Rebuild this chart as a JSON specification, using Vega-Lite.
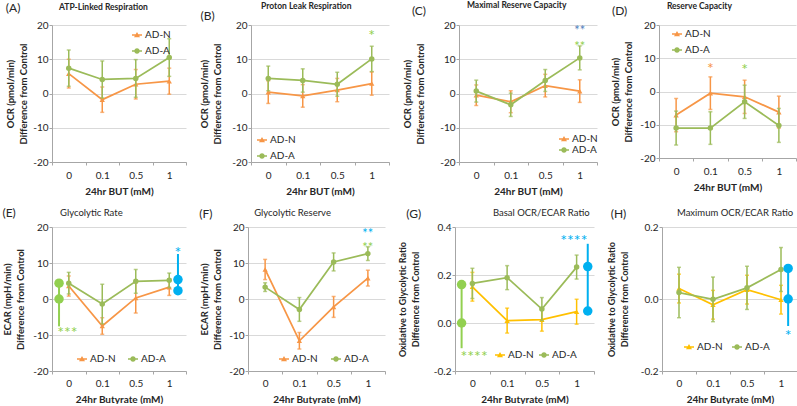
{
"$schema": "https://vega.github.io/schema/vega-lite/v6.json",
"padding": {"left": 2, "top": 0, "right": 0, "bottom": 0},
"datasets": {
"d": [
{"p":"A","kind":"m","s":"AD-N","x":0,"y":5.8,"e":4.2},{"p":"A","kind":"m","s":"AD-N","x":1,"y":-1.8,"e":3.7},{"p":"A","kind":"m","s":"AD-N","x":2,"y":2.7,"e":4.3},{"p":"A","kind":"m","s":"AD-N","x":3,"y":3.6,"e":3.8},
{"p":"A","kind":"m","s":"AD-A","x":0,"y":7.4,"e":5.3},{"p":"A","kind":"m","s":"AD-A","x":1,"y":4.1,"e":5.4},{"p":"A","kind":"m","s":"AD-A","x":2,"y":4.4,"e":5.5},{"p":"A","kind":"m","s":"AD-A","x":3,"y":10.5,"e":5.5},
{"p":"B","kind":"m","s":"AD-N","x":0,"y":0.4,"e":3.3},{"p":"B","kind":"m","s":"AD-N","x":1,"y":-0.7,"e":3.3},{"p":"B","kind":"m","s":"AD-N","x":2,"y":1.0,"e":3.4},{"p":"B","kind":"m","s":"AD-N","x":3,"y":2.9,"e":3.4},
{"p":"B","kind":"m","s":"AD-A","x":0,"y":4.4,"e":3.6},{"p":"B","kind":"m","s":"AD-A","x":1,"y":3.8,"e":3.4},{"p":"B","kind":"m","s":"AD-A","x":2,"y":2.7,"e":3.5},{"p":"B","kind":"m","s":"AD-A","x":3,"y":10.1,"e":3.7},
{"p":"C","kind":"m","s":"AD-N","x":0,"y":-0.5,"e":3.0},{"p":"C","kind":"m","s":"AD-N","x":1,"y":-2.4,"e":3.2},{"p":"C","kind":"m","s":"AD-N","x":2,"y":2.3,"e":3.3},{"p":"C","kind":"m","s":"AD-N","x":3,"y":0.7,"e":3.3},
{"p":"C","kind":"m","s":"AD-A","x":0,"y":0.7,"e":3.2},{"p":"C","kind":"m","s":"AD-A","x":1,"y":-3.3,"e":3.4},{"p":"C","kind":"m","s":"AD-A","x":2,"y":3.8,"e":3.2},{"p":"C","kind":"m","s":"AD-A","x":3,"y":10.4,"e":3.5},
{"p":"D","kind":"m","s":"AD-N","x":0,"y":-7.1,"e":5.0},{"p":"D","kind":"m","s":"AD-N","x":1,"y":-0.5,"e":4.9},{"p":"D","kind":"m","s":"AD-N","x":2,"y":-1.6,"e":5.0},{"p":"D","kind":"m","s":"AD-N","x":3,"y":-6.2,"e":4.8},
{"p":"D","kind":"m","s":"AD-A","x":0,"y":-11.0,"e":5.1},{"p":"D","kind":"m","s":"AD-A","x":1,"y":-11.0,"e":4.9},{"p":"D","kind":"m","s":"AD-A","x":2,"y":-3.1,"e":5.0},{"p":"D","kind":"m","s":"AD-A","x":3,"y":-10.2,"e":5.1},
{"p":"E","kind":"m","s":"AD-N","x":0,"y":3.6,"e":2.8},{"p":"E","kind":"m","s":"AD-N","x":1,"y":-7.5,"e":2.3},{"p":"E","kind":"m","s":"AD-N","x":2,"y":0.3,"e":4.2},{"p":"E","kind":"m","s":"AD-N","x":3,"y":3.3,"e":2.3},
{"p":"E","kind":"m","s":"AD-A","x":0,"y":4.4,"e":3.0},{"p":"E","kind":"m","s":"AD-A","x":1,"y":-1.4,"e":5.5},{"p":"E","kind":"m","s":"AD-A","x":2,"y":4.9,"e":3.3},{"p":"E","kind":"m","s":"AD-A","x":3,"y":5.2,"e":2.0},
{"p":"F","kind":"m","s":"AD-N","x":0,"y":8.2,"e":2.8},{"p":"F","kind":"m","s":"AD-N","x":1,"y":-11.6,"e":2.3},{"p":"F","kind":"m","s":"AD-N","x":2,"y":-2.2,"e":2.9},{"p":"F","kind":"m","s":"AD-N","x":3,"y":5.8,"e":2.2},
{"p":"F","kind":"m","s":"AD-A","x":0,"y":3.3,"e":1.2},{"p":"F","kind":"m","s":"AD-A","x":1,"y":-2.9,"e":3.3},{"p":"F","kind":"m","s":"AD-A","x":2,"y":10.3,"e":2.5},{"p":"F","kind":"m","s":"AD-A","x":3,"y":12.6,"e":1.9},
{"p":"G","kind":"m","s":"AD-N","x":0,"y":0.151,"e":0.06},{"p":"G","kind":"m","s":"AD-N","x":1,"y":0.01,"e":0.052},{"p":"G","kind":"m","s":"AD-N","x":2,"y":0.014,"e":0.048},{"p":"G","kind":"m","s":"AD-N","x":3,"y":0.047,"e":0.052},
{"p":"G","kind":"m","s":"AD-A","x":0,"y":0.165,"e":0.063},{"p":"G","kind":"m","s":"AD-A","x":1,"y":0.189,"e":0.05},{"p":"G","kind":"m","s":"AD-A","x":2,"y":0.058,"e":0.048},{"p":"G","kind":"m","s":"AD-A","x":3,"y":0.233,"e":0.05},
{"p":"H","kind":"m","s":"AD-N","x":0,"y":0.029,"e":0.04},{"p":"H","kind":"m","s":"AD-N","x":1,"y":-0.016,"e":0.04},{"p":"H","kind":"m","s":"AD-N","x":2,"y":0.026,"e":0.04},{"p":"H","kind":"m","s":"AD-N","x":3,"y":-0.002,"e":0.04},
{"p":"H","kind":"m","s":"AD-A","x":0,"y":0.018,"e":0.07},{"p":"H","kind":"m","s":"AD-A","x":1,"y":-0.001,"e":0.062},{"p":"H","kind":"m","s":"AD-A","x":2,"y":0.031,"e":0.06},{"p":"H","kind":"m","s":"AD-A","x":3,"y":0.082,"e":0.061},
{"p":"E","kind":"sd","k":"A","x":-0.29,"y":4.4},{"p":"E","kind":"sd","k":"A","x":-0.29,"y":0},{"p":"E","kind":"sd","k":"AvN","x":3.26,"y":5.4},{"p":"E","kind":"sd","k":"AvN","x":3.26,"y":2.3},
{"p":"G","kind":"sd","k":"A","x":-0.31,"y":0.16},{"p":"G","kind":"sd","k":"A","x":-0.31,"y":0},{"p":"G","kind":"sd","k":"AvN","x":3.32,"y":0.235},{"p":"G","kind":"sd","k":"AvN","x":3.32,"y":0.05},
{"p":"H","kind":"sd","k":"AvN","x":3.21,"y":0.085},{"p":"H","kind":"sd","k":"AvN","x":3.21,"y":0},
{"p":"E","kind":"sb","k":"A","x":-0.29,"y":-7.6,"y2":4.4},{"p":"E","kind":"sb","k":"AvN","x":3.26,"y":2.3,"y2":12.5},
{"p":"G","kind":"sb","k":"A","x":-0.31,"y":-0.105,"y2":0.16},{"p":"G","kind":"sb","k":"AvN","x":3.32,"y":0.05,"y2":0.33},
{"p":"H","kind":"sb","k":"AvN","x":3.21,"y":-0.075,"y2":0.085},
{"p":"B","kind":"st","k":"A","x":3,"y":17.6,"t":"*"},
{"p":"C","kind":"st","k":"AvN","x":3,"y":19.0,"t":"**"},{"p":"C","kind":"st","k":"A","x":3,"y":14.4,"t":"**"},
{"p":"D","kind":"st","k":"N","x":1,"y":7.8,"t":"*"},{"p":"D","kind":"st","k":"A","x":2,"y":7.4,"t":"*"},
{"p":"E","kind":"st","k":"A","x":-0.04,"y":-8.7,"t":"***"},{"p":"E","kind":"st","k":"AvN","x":3.26,"y":13.6,"t":"*"},
{"p":"F","kind":"st","k":"AvN","x":3,"y":19.0,"t":"**"},{"p":"F","kind":"st","k":"A","x":3,"y":15.0,"t":"**"},
{"p":"G","kind":"st","k":"A","x":0.05,"y":-0.13,"t":"****"},{"p":"G","kind":"st","k":"AvN","x":2.92,"y":0.355,"t":"****"},
{"p":"H","kind":"st","k":"AvN","x":3.21,"y":-0.095,"t":"*"},
{"p":"A","kind":"lab","t":"(A)","name":"ATP-Linked Respiration"},
{"p":"B","kind":"lab","t":"(B)","name":"Proton Leak Respiration"},
{"p":"C","kind":"lab","t":"(C)","name":"Maximal Reserve Capacity"},
{"p":"D","kind":"lab","t":"(D)","name":"Reserve Capacity"},
{"p":"E","kind":"lab","t":"(E)","name":"Glycolytic Rate"},
{"p":"F","kind":"lab","t":"(F)","name":"Glycolytic Reserve"},
{"p":"G","kind":"lab","t":"(G)","name":"Basal OCR/ECAR Ratio"},
{"p":"H","kind":"lab","t":"(H)","name":"Maximum OCR/ECAR Ratio"}
]
},
"spacing": 10,
"resolve": {"scale": {"x": "independent", "y": "independent", "color": "independent", "shape": "independent"}, "legend": {"color": "independent", "shape": "independent"}},
"vconcat": [
{
"spacing": 12,
"resolve": {"scale": {"x": "independent", "y": "independent", "color": "independent", "shape": "independent"}, "legend": {"color": "independent", "shape": "independent"}},
"hconcat": [
{
"width": 134, "height": 137,
"resolve": {"scale": {"x": "independent", "y": "independent"}},
"layer": [
{
"encoding": {
"x": {"field": "x", "type": "quantitative", "scale": {"domain": [-0.5, 3.5], "nice": false, "zero": false}, "axis": {"values": [-0.5, 0.5, 1.5, 2.5, 3.5], "labelExpr": "datum.value < 0 ? '0' : datum.value < 1 ? '0.1' : datum.value < 2 ? '0.5' : datum.value < 3 ? '1' : ''", "labelOffset": {"condition": {"test": "datum.value > 3", "value": 0}, "value": 16.75}, "labelOverlap": false, "title": "24hr BUT (mM)"}},
"y": {"field": "y", "type": "quantitative", "scale": {"domain": [-20, 20], "nice": false, "zero": false}, "axis": {"values": [-20, -10, 0, 10, 20], "labelOverlap": false, "labelExpr": "replace(datum.label, '−', '-')", "title": ["OCR (pmol/min)", "Difference from Control"], "titlePadding": 4}}
},
"layer": [
{"data": {"name": "d"}, "transform": [{"filter": "datum.p=='A' && datum.kind=='m' && datum.s=='AD-N'"}], "mark": {"type": "errorbar", "color": "#F79646", "thickness": 1.5, "size": 4, "ticks": true}, "encoding": {"yError": {"field": "e"}}},
{"data": {"name": "d"}, "transform": [{"filter": "datum.p=='A' && datum.kind=='m' && datum.s=='AD-N'"}], "mark": {"type": "line", "color": "#F79646", "strokeWidth": 1.75, "point": {"filled": true, "shape": "triangle-up", "size": 28, "color": "#F79646", "opacity": 1}}},
{"data": {"name": "d"}, "transform": [{"filter": "datum.p=='A' && datum.kind=='m' && datum.s=='AD-A'"}], "mark": {"type": "errorbar", "color": "#9BBB59", "thickness": 1.5, "size": 4, "ticks": true}, "encoding": {"yError": {"field": "e"}}},
{"data": {"name": "d"}, "transform": [{"filter": "datum.p=='A' && datum.kind=='m' && datum.s=='AD-A'"}], "mark": {"type": "line", "color": "#9BBB59", "strokeWidth": 1.75, "point": {"filled": true, "shape": "circle", "size": 30, "color": "#9BBB59", "opacity": 1}}},
{"data": {"name": "d"}, "transform": [{"filter": "false"}], "mark": {"type": "point", "filled": true, "opacity": 1, "size": 100},
 "encoding": {"color": {"field": "s", "type": "nominal", "scale": {"domain": ["AD-N", "AD-A"], "range": ["#F79646", "#9BBB59"]}, "legend": {"title": null, "orient": "none", "legendX": 79, "legendY": 4, "direction": "vertical", "rowPadding": 5}},
  "shape": {"field": "s", "type": "nominal", "scale": {"domain": ["AD-N", "AD-A"], "range": ["M-1,-0.15L1,-0.15L1,0.15L-1,0.15Z M0,-0.6L0.6,0.45L-0.6,0.45Z", "M-1,-0.15L1,-0.15L1,0.15L-1,0.15Z M0.55,0A0.55,0.55,0,1,1,-0.55,0A0.55,0.55,0,1,1,0.55,0Z"]}}}}
]
},
{"data": {"name": "d"}, "transform": [{"filter": "datum.p=='A' && datum.kind=='lab'"}], "mark": {"type": "text", "fontSize": 12, "color": "#262626"}, "encoding": {"x": {"datum": -1.66, "type": "quantitative", "scale": {"domain": [-0.5, 3.5], "nice": false, "zero": false}, "axis": null}, "y": {"datum": 24.96, "type": "quantitative", "scale": {"domain": [-20, 20], "nice": false, "zero": false}, "axis": null}, "text": {"field": "t"}}},
{"data": {"name": "d"}, "transform": [{"filter": "datum.p=='A' && datum.kind=='lab'"}], "mark": {"type": "text", "fontSize": 8.5, "fontWeight": "bold", "align": "left", "color": "#262626"}, "encoding": {"x": {"datum": -0.29, "type": "quantitative", "scale": {"domain": [-0.5, 3.5], "nice": false, "zero": false}, "axis": null}, "y": {"datum": 25.26, "type": "quantitative", "scale": {"domain": [-20, 20], "nice": false, "zero": false}, "axis": null}, "text": {"field": "name"}}}
]
},
{
"width": 138, "height": 137,
"resolve": {"scale": {"x": "independent", "y": "independent"}},
"layer": [
{
"encoding": {
"x": {"field": "x", "type": "quantitative", "scale": {"domain": [-0.5, 3.5], "nice": false, "zero": false}, "axis": {"values": [-0.5, 0.5, 1.5, 2.5, 3.5], "labelExpr": "datum.value < 0 ? '0' : datum.value < 1 ? '0.1' : datum.value < 2 ? '0.5' : datum.value < 3 ? '1' : ''", "labelOffset": {"condition": {"test": "datum.value > 3", "value": 0}, "value": 17.25}, "labelOverlap": false, "title": "24hr BUT (mM)"}},
"y": {"field": "y", "type": "quantitative", "scale": {"domain": [-20, 20], "nice": false, "zero": false}, "axis": {"values": [-20, -10, 0, 10, 20], "labelOverlap": false, "labelExpr": "replace(datum.label, '−', '-')", "title": ["OCR (pmol/min)", "Difference from Control"], "titlePadding": 9}}
},
"layer": [
{"data": {"name": "d"}, "transform": [{"filter": "datum.p=='B' && datum.kind=='m' && datum.s=='AD-N'"}], "mark": {"type": "errorbar", "color": "#F79646", "thickness": 1.5, "size": 4, "ticks": true}, "encoding": {"yError": {"field": "e"}}},
{"data": {"name": "d"}, "transform": [{"filter": "datum.p=='B' && datum.kind=='m' && datum.s=='AD-N'"}], "mark": {"type": "line", "color": "#F79646", "strokeWidth": 1.75, "point": {"filled": true, "shape": "triangle-up", "size": 28, "color": "#F79646", "opacity": 1}}},
{"data": {"name": "d"}, "transform": [{"filter": "datum.p=='B' && datum.kind=='m' && datum.s=='AD-A'"}], "mark": {"type": "errorbar", "color": "#9BBB59", "thickness": 1.5, "size": 4, "ticks": true}, "encoding": {"yError": {"field": "e"}}},
{"data": {"name": "d"}, "transform": [{"filter": "datum.p=='B' && datum.kind=='m' && datum.s=='AD-A'"}], "mark": {"type": "line", "color": "#9BBB59", "strokeWidth": 1.75, "point": {"filled": true, "shape": "circle", "size": 30, "color": "#9BBB59", "opacity": 1}}},
{"data": {"name": "d"}, "transform": [{"filter": "datum.p=='B' && datum.kind=='st' && datum.k=='A'"}], "mark": {"type": "text", "fontSize": 16, "baseline": "middle", "dy": 3, "color": "#92D050"}, "encoding": {"text": {"field": "t"}}},
{"data": {"name": "d"}, "transform": [{"filter": "false"}], "mark": {"type": "point", "filled": true, "opacity": 1, "size": 100},
 "encoding": {"color": {"field": "s", "type": "nominal", "scale": {"domain": ["AD-N", "AD-A"], "range": ["#F79646", "#9BBB59"]}, "legend": {"title": null, "orient": "none", "legendX": 5, "legendY": 109, "direction": "vertical", "rowPadding": 5}},
  "shape": {"field": "s", "type": "nominal", "scale": {"domain": ["AD-N", "AD-A"], "range": ["M-1,-0.15L1,-0.15L1,0.15L-1,0.15Z M0,-0.6L0.6,0.45L-0.6,0.45Z", "M-1,-0.15L1,-0.15L1,0.15L-1,0.15Z M0.55,0A0.55,0.55,0,1,1,-0.55,0A0.55,0.55,0,1,1,0.55,0Z"]}}}}
]
},
{"data": {"name": "d"}, "transform": [{"filter": "datum.p=='B' && datum.kind=='lab'"}], "mark": {"type": "text", "fontSize": 12, "color": "#262626"}, "encoding": {"x": {"datum": -1.76, "type": "quantitative", "scale": {"domain": [-0.5, 3.5], "nice": false, "zero": false}, "axis": null}, "y": {"datum": 22.6, "type": "quantitative", "scale": {"domain": [-20, 20], "nice": false, "zero": false}, "axis": null}, "text": {"field": "t"}}},
{"data": {"name": "d"}, "transform": [{"filter": "datum.p=='B' && datum.kind=='lab'"}], "mark": {"type": "text", "fontSize": 8.5, "fontWeight": "bold", "align": "left", "color": "#262626"}, "encoding": {"x": {"datum": -0.21, "type": "quantitative", "scale": {"domain": [-0.5, 3.5], "nice": false, "zero": false}, "axis": null}, "y": {"datum": 25.55, "type": "quantitative", "scale": {"domain": [-20, 20], "nice": false, "zero": false}, "axis": null}, "text": {"field": "name"}}}
]
},
{
"width": 138, "height": 137,
"resolve": {"scale": {"x": "independent", "y": "independent"}},
"layer": [
{
"encoding": {
"x": {"field": "x", "type": "quantitative", "scale": {"domain": [-0.5, 3.5], "nice": false, "zero": false}, "axis": {"values": [-0.5, 0.5, 1.5, 2.5, 3.5], "labelExpr": "datum.value < 0 ? '0' : datum.value < 1 ? '0.1' : datum.value < 2 ? '0.5' : datum.value < 3 ? '1' : ''", "labelOffset": {"condition": {"test": "datum.value > 3", "value": 0}, "value": 17.25}, "labelOverlap": false, "title": "24hr BUT (mM)"}},
"y": {"field": "y", "type": "quantitative", "scale": {"domain": [-20, 20], "nice": false, "zero": false}, "axis": {"values": [-20, -10, 0, 10, 20], "labelOverlap": false, "labelExpr": "replace(datum.label, '−', '-')", "title": ["OCR (pmol/min)", "Difference from Control"], "titlePadding": 14}}
},
"layer": [
{"data": {"name": "d"}, "transform": [{"filter": "datum.p=='C' && datum.kind=='m' && datum.s=='AD-N'"}], "mark": {"type": "errorbar", "color": "#F79646", "thickness": 1.5, "size": 4, "ticks": true}, "encoding": {"yError": {"field": "e"}}},
{"data": {"name": "d"}, "transform": [{"filter": "datum.p=='C' && datum.kind=='m' && datum.s=='AD-N'"}], "mark": {"type": "line", "color": "#F79646", "strokeWidth": 1.75, "point": {"filled": true, "shape": "triangle-up", "size": 28, "color": "#F79646", "opacity": 1}}},
{"data": {"name": "d"}, "transform": [{"filter": "datum.p=='C' && datum.kind=='m' && datum.s=='AD-A'"}], "mark": {"type": "errorbar", "color": "#9BBB59", "thickness": 1.5, "size": 4, "ticks": true}, "encoding": {"yError": {"field": "e"}}},
{"data": {"name": "d"}, "transform": [{"filter": "datum.p=='C' && datum.kind=='m' && datum.s=='AD-A'"}], "mark": {"type": "line", "color": "#9BBB59", "strokeWidth": 1.75, "point": {"filled": true, "shape": "circle", "size": 30, "color": "#9BBB59", "opacity": 1}}},
{"data": {"name": "d"}, "transform": [{"filter": "datum.p=='C' && datum.kind=='st' && datum.k=='A'"}], "mark": {"type": "text", "fontSize": 13, "baseline": "middle", "dy": 3, "color": "#92D050"}, "encoding": {"text": {"field": "t"}}},
{"data": {"name": "d"}, "transform": [{"filter": "datum.p=='C' && datum.kind=='st' && datum.k=='AvN'"}], "mark": {"type": "text", "fontSize": 13, "baseline": "middle", "dy": 3, "color": "#4F81BD"}, "encoding": {"text": {"field": "t"}}},
{"data": {"name": "d"}, "transform": [{"filter": "false"}], "mark": {"type": "point", "filled": true, "opacity": 1, "size": 100},
 "encoding": {"color": {"field": "s", "type": "nominal", "scale": {"domain": ["AD-N", "AD-A"], "range": ["#F79646", "#9BBB59"]}, "legend": {"title": null, "orient": "none", "legendX": 99, "legendY": 108, "direction": "vertical", "rowPadding": 0}},
  "shape": {"field": "s", "type": "nominal", "scale": {"domain": ["AD-N", "AD-A"], "range": ["M-1,-0.15L1,-0.15L1,0.15L-1,0.15Z M0,-0.6L0.6,0.45L-0.6,0.45Z", "M-1,-0.15L1,-0.15L1,0.15L-1,0.15Z M0.55,0A0.55,0.55,0,1,1,-0.55,0A0.55,0.55,0,1,1,0.55,0Z"]}}}}
]
},
{"data": {"name": "d"}, "transform": [{"filter": "datum.p=='C' && datum.kind=='lab'"}], "mark": {"type": "text", "fontSize": 12, "color": "#262626"}, "encoding": {"x": {"datum": -1.66, "type": "quantitative", "scale": {"domain": [-0.5, 3.5], "nice": false, "zero": false}, "axis": null}, "y": {"datum": 24.1, "type": "quantitative", "scale": {"domain": [-20, 20], "nice": false, "zero": false}, "axis": null}, "text": {"field": "t"}}},
{"data": {"name": "d"}, "transform": [{"filter": "datum.p=='C' && datum.kind=='lab'"}], "mark": {"type": "text", "fontSize": 8.5, "fontWeight": "bold", "align": "left", "color": "#262626"}, "encoding": {"x": {"datum": -0.27, "type": "quantitative", "scale": {"domain": [-0.5, 3.5], "nice": false, "zero": false}, "axis": null}, "y": {"datum": 25.84, "type": "quantitative", "scale": {"domain": [-20, 20], "nice": false, "zero": false}, "axis": null}, "text": {"field": "name"}}}
]
},
{
"width": 137, "height": 133,
"resolve": {"scale": {"x": "independent", "y": "independent"}},
"layer": [
{
"encoding": {
"x": {"field": "x", "type": "quantitative", "scale": {"domain": [-0.5, 3.5], "nice": false, "zero": false}, "axis": {"values": [-0.5, 0.5, 1.5, 2.5, 3.5], "labelExpr": "datum.value < 0 ? '0' : datum.value < 1 ? '0.1' : datum.value < 2 ? '0.5' : datum.value < 3 ? '1' : ''", "labelOffset": {"condition": {"test": "datum.value > 3", "value": 0}, "value": 17.1}, "labelOverlap": false, "title": "24hr BUT (mM)"}},
"y": {"field": "y", "type": "quantitative", "scale": {"domain": [-20, 20], "nice": false, "zero": false}, "axis": {"values": [-20, -10, 0, 10, 20], "labelOverlap": false, "labelExpr": "replace(datum.label, '−', '-')", "title": ["OCR (pmol/min)", "Difference from Control"], "titlePadding": 6}}
},
"layer": [
{"data": {"name": "d"}, "transform": [{"filter": "datum.p=='D' && datum.kind=='m' && datum.s=='AD-N'"}], "mark": {"type": "errorbar", "color": "#F79646", "thickness": 1.5, "size": 4, "ticks": true}, "encoding": {"yError": {"field": "e"}}},
{"data": {"name": "d"}, "transform": [{"filter": "datum.p=='D' && datum.kind=='m' && datum.s=='AD-N'"}], "mark": {"type": "line", "color": "#F79646", "strokeWidth": 1.75, "point": {"filled": true, "shape": "triangle-up", "size": 28, "color": "#F79646", "opacity": 1}}},
{"data": {"name": "d"}, "transform": [{"filter": "datum.p=='D' && datum.kind=='m' && datum.s=='AD-A'"}], "mark": {"type": "errorbar", "color": "#9BBB59", "thickness": 1.5, "size": 4, "ticks": true}, "encoding": {"yError": {"field": "e"}}},
{"data": {"name": "d"}, "transform": [{"filter": "datum.p=='D' && datum.kind=='m' && datum.s=='AD-A'"}], "mark": {"type": "line", "color": "#9BBB59", "strokeWidth": 1.75, "point": {"filled": true, "shape": "circle", "size": 30, "color": "#9BBB59", "opacity": 1}}},
{"data": {"name": "d"}, "transform": [{"filter": "datum.p=='D' && datum.kind=='st' && datum.k=='A'"}], "mark": {"type": "text", "fontSize": 16, "baseline": "middle", "dy": 3, "color": "#92D050"}, "encoding": {"text": {"field": "t"}}},
{"data": {"name": "d"}, "transform": [{"filter": "datum.p=='D' && datum.kind=='st' && datum.k=='N'"}], "mark": {"type": "text", "fontSize": 16, "baseline": "middle", "dy": 3, "color": "#F79646"}, "encoding": {"text": {"field": "t"}}},
{"data": {"name": "d"}, "transform": [{"filter": "false"}], "mark": {"type": "point", "filled": true, "opacity": 1, "size": 100},
 "encoding": {"color": {"field": "s", "type": "nominal", "scale": {"domain": ["AD-N", "AD-A"], "range": ["#F79646", "#9BBB59"]}, "legend": {"title": null, "orient": "none", "legendX": 12, "legendY": 3, "direction": "vertical", "rowPadding": 5}},
  "shape": {"field": "s", "type": "nominal", "scale": {"domain": ["AD-N", "AD-A"], "range": ["M-1,-0.15L1,-0.15L1,0.15L-1,0.15Z M0,-0.6L0.6,0.45L-0.6,0.45Z", "M-1,-0.15L1,-0.15L1,0.15L-1,0.15Z M0.55,0A0.55,0.55,0,1,1,-0.55,0A0.55,0.55,0,1,1,0.55,0Z"]}}}}
]
},
{"data": {"name": "d"}, "transform": [{"filter": "datum.p=='D' && datum.kind=='lab'"}], "mark": {"type": "text", "fontSize": 12, "color": "#262626"}, "encoding": {"x": {"datum": -1.65, "type": "quantitative", "scale": {"domain": [-0.5, 3.5], "nice": false, "zero": false}, "axis": null}, "y": {"datum": 24.2, "type": "quantitative", "scale": {"domain": [-20, 20], "nice": false, "zero": false}, "axis": null}, "text": {"field": "t"}}},
{"data": {"name": "d"}, "transform": [{"filter": "datum.p=='D' && datum.kind=='lab'"}], "mark": {"type": "text", "fontSize": 8.5, "fontWeight": "bold", "align": "left", "color": "#262626"}, "encoding": {"x": {"datum": -0.27, "type": "quantitative", "scale": {"domain": [-0.5, 3.5], "nice": false, "zero": false}, "axis": null}, "y": {"datum": 25.71, "type": "quantitative", "scale": {"domain": [-20, 20], "nice": false, "zero": false}, "axis": null}, "text": {"field": "name"}}}
]
}
]
},
{
"spacing": 12,
"resolve": {"scale": {"x": "independent", "y": "independent", "color": "independent", "shape": "independent"}, "legend": {"color": "independent", "shape": "independent"}},
"hconcat": [
{
"width": 134, "height": 144,
"resolve": {"scale": {"x": "independent", "y": "independent"}},
"layer": [
{
"encoding": {
"x": {"field": "x", "type": "quantitative", "scale": {"domain": [-0.5, 3.5], "nice": false, "zero": false}, "axis": {"values": [-0.5, 0.5, 1.5, 2.5, 3.5], "labelExpr": "datum.value < 0 ? '0' : datum.value < 1 ? '0.1' : datum.value < 2 ? '0.5' : datum.value < 3 ? '1' : ''", "labelOffset": {"condition": {"test": "datum.value > 3", "value": 0}, "value": 16.75}, "labelOverlap": false, "labelPadding": 4, "title": "24hr Butyrate (mM)"}},
"y": {"field": "y", "type": "quantitative", "scale": {"domain": [-20, 20], "nice": false, "zero": false}, "axis": {"values": [-20, -10, 0, 10, 20], "labelOverlap": false, "labelExpr": "replace(datum.label, '−', '-')", "title": ["ECAR (mpH/min)", "Difference from Control"], "titlePadding": 7}}
},
"layer": [
{"data": {"name": "d"}, "transform": [{"filter": "datum.p=='E' && datum.kind=='m' && datum.s=='AD-N'"}], "mark": {"type": "errorbar", "color": "#F79646", "thickness": 1.5, "size": 4, "ticks": true}, "encoding": {"yError": {"field": "e"}}},
{"data": {"name": "d"}, "transform": [{"filter": "datum.p=='E' && datum.kind=='m' && datum.s=='AD-N'"}], "mark": {"type": "line", "color": "#F79646", "strokeWidth": 1.75, "point": {"filled": true, "shape": "triangle-up", "size": 28, "color": "#F79646", "opacity": 1}}},
{"data": {"name": "d"}, "transform": [{"filter": "datum.p=='E' && datum.kind=='m' && datum.s=='AD-A'"}], "mark": {"type": "errorbar", "color": "#9BBB59", "thickness": 1.5, "size": 4, "ticks": true}, "encoding": {"yError": {"field": "e"}}},
{"data": {"name": "d"}, "transform": [{"filter": "datum.p=='E' && datum.kind=='m' && datum.s=='AD-A'"}], "mark": {"type": "line", "color": "#9BBB59", "strokeWidth": 1.75, "point": {"filled": true, "shape": "circle", "size": 30, "color": "#9BBB59", "opacity": 1}}},
{"data": {"name": "d"}, "transform": [{"filter": "datum.p=='E' && datum.kind=='sb' && datum.k=='A'"}], "mark": {"type": "rule", "color": "#92D050", "strokeWidth": 2}, "encoding": {"y2": {"field": "y2"}}},
{"data": {"name": "d"}, "transform": [{"filter": "datum.p=='E' && datum.kind=='sb' && datum.k=='AvN'"}], "mark": {"type": "rule", "color": "#00B0F0", "strokeWidth": 2}, "encoding": {"y2": {"field": "y2"}}},
{"data": {"name": "d"}, "transform": [{"filter": "datum.p=='E' && datum.kind=='sd' && datum.k=='A'"}], "mark": {"type": "point", "filled": true, "shape": "circle", "size": 90, "opacity": 1, "color": "#92D050"}},
{"data": {"name": "d"}, "transform": [{"filter": "datum.p=='E' && datum.kind=='sd' && datum.k=='AvN'"}], "mark": {"type": "point", "filled": true, "shape": "circle", "size": 90, "opacity": 1, "color": "#00B0F0"}},
{"data": {"name": "d"}, "transform": [{"filter": "datum.p=='E' && datum.kind=='st' && datum.k=='A'"}], "mark": {"type": "text", "fontSize": 16, "baseline": "middle", "dy": 3, "color": "#92D050"}, "encoding": {"text": {"field": "t"}}},
{"data": {"name": "d"}, "transform": [{"filter": "datum.p=='E' && datum.kind=='st' && datum.k=='AvN'"}], "mark": {"type": "text", "fontSize": 16, "baseline": "middle", "dy": 3, "color": "#00B0F0"}, "encoding": {"text": {"field": "t"}}},
{"data": {"name": "d"}, "transform": [{"filter": "false"}], "mark": {"type": "point", "filled": true, "opacity": 1, "size": 100},
 "encoding": {"color": {"field": "s", "type": "nominal", "scale": {"domain": ["AD-N", "AD-A"], "range": ["#F79646", "#9BBB59"]}, "legend": {"title": null, "orient": "none", "legendX": 24, "legendY": 126, "direction": "horizontal", "columnPadding": 11}},
  "shape": {"field": "s", "type": "nominal", "scale": {"domain": ["AD-N", "AD-A"], "range": ["M-1,-0.15L1,-0.15L1,0.15L-1,0.15Z M0,-0.6L0.6,0.45L-0.6,0.45Z", "M-1,-0.15L1,-0.15L1,0.15L-1,0.15Z M0.55,0A0.55,0.55,0,1,1,-0.55,0A0.55,0.55,0,1,1,0.55,0Z"]}}}}
]
},
{"data": {"name": "d"}, "transform": [{"filter": "datum.p=='E' && datum.kind=='lab'"}], "mark": {"type": "text", "fontSize": 12, "color": "#262626"}, "encoding": {"x": {"datum": -1.78, "type": "quantitative", "scale": {"domain": [-0.5, 3.5], "nice": false, "zero": false}, "axis": null}, "y": {"datum": 23.9, "type": "quantitative", "scale": {"domain": [-20, 20], "nice": false, "zero": false}, "axis": null}, "text": {"field": "t"}}},
{"data": {"name": "d"}, "transform": [{"filter": "datum.p=='E' && datum.kind=='lab'"}], "mark": {"type": "text", "fontSize": 9.5, "align": "left", "color": "#262626"}, "encoding": {"x": {"datum": -0.26, "type": "quantitative", "scale": {"domain": [-0.5, 3.5], "nice": false, "zero": false}, "axis": null}, "y": {"datum": 23.89, "type": "quantitative", "scale": {"domain": [-20, 20], "nice": false, "zero": false}, "axis": null}, "text": {"field": "name"}}}
]
},
{
"width": 137, "height": 144,
"resolve": {"scale": {"x": "independent", "y": "independent"}},
"layer": [
{
"encoding": {
"x": {"field": "x", "type": "quantitative", "scale": {"domain": [-0.5, 3.5], "nice": false, "zero": false}, "axis": {"values": [-0.5, 0.5, 1.5, 2.5, 3.5], "labelExpr": "datum.value < 0 ? '0' : datum.value < 1 ? '0.1' : datum.value < 2 ? '0.5' : datum.value < 3 ? '1' : ''", "labelOffset": {"condition": {"test": "datum.value > 3", "value": 0}, "value": 17.1}, "labelOverlap": false, "labelPadding": 4, "title": "24hr Butyrate (mM)"}},
"y": {"field": "y", "type": "quantitative", "scale": {"domain": [-20, 20], "nice": false, "zero": false}, "axis": {"values": [-20, -10, 0, 10, 20], "labelOverlap": false, "labelExpr": "replace(datum.label, '−', '-')", "title": ["ECAR (mpH/min)", "Difference from Control"], "titlePadding": 6}}
},
"layer": [
{"data": {"name": "d"}, "transform": [{"filter": "datum.p=='F' && datum.kind=='m' && datum.s=='AD-N'"}], "mark": {"type": "errorbar", "color": "#F79646", "thickness": 1.5, "size": 4, "ticks": true}, "encoding": {"yError": {"field": "e"}}},
{"data": {"name": "d"}, "transform": [{"filter": "datum.p=='F' && datum.kind=='m' && datum.s=='AD-N'"}], "mark": {"type": "line", "color": "#F79646", "strokeWidth": 1.75, "point": {"filled": true, "shape": "triangle-up", "size": 28, "color": "#F79646", "opacity": 1}}},
{"data": {"name": "d"}, "transform": [{"filter": "datum.p=='F' && datum.kind=='m' && datum.s=='AD-A'"}], "mark": {"type": "errorbar", "color": "#9BBB59", "thickness": 1.5, "size": 4, "ticks": true}, "encoding": {"yError": {"field": "e"}}},
{"data": {"name": "d"}, "transform": [{"filter": "datum.p=='F' && datum.kind=='m' && datum.s=='AD-A'"}], "mark": {"type": "line", "color": "#9BBB59", "strokeWidth": 1.75, "point": {"filled": true, "shape": "circle", "size": 30, "color": "#9BBB59", "opacity": 1}}},
{"data": {"name": "d"}, "transform": [{"filter": "datum.p=='F' && datum.kind=='st' && datum.k=='A'"}], "mark": {"type": "text", "fontSize": 13, "baseline": "middle", "dy": 3, "color": "#92D050"}, "encoding": {"text": {"field": "t"}}},
{"data": {"name": "d"}, "transform": [{"filter": "datum.p=='F' && datum.kind=='st' && datum.k=='AvN'"}], "mark": {"type": "text", "fontSize": 13, "baseline": "middle", "dy": 3, "color": "#00B0F0"}, "encoding": {"text": {"field": "t"}}},
{"data": {"name": "d"}, "transform": [{"filter": "false"}], "mark": {"type": "point", "filled": true, "opacity": 1, "size": 100},
 "encoding": {"color": {"field": "s", "type": "nominal", "scale": {"domain": ["AD-N", "AD-A"], "range": ["#F79646", "#9BBB59"]}, "legend": {"title": null, "orient": "none", "legendX": 30, "legendY": 126, "direction": "horizontal", "columnPadding": 12}},
  "shape": {"field": "s", "type": "nominal", "scale": {"domain": ["AD-N", "AD-A"], "range": ["M-1,-0.15L1,-0.15L1,0.15L-1,0.15Z M0,-0.6L0.6,0.45L-0.6,0.45Z", "M-1,-0.15L1,-0.15L1,0.15L-1,0.15Z M0.55,0A0.55,0.55,0,1,1,-0.55,0A0.55,0.55,0,1,1,0.55,0Z"]}}}}
]
},
{"data": {"name": "d"}, "transform": [{"filter": "datum.p=='F' && datum.kind=='lab'"}], "mark": {"type": "text", "fontSize": 12, "color": "#262626"}, "encoding": {"x": {"datum": -1.73, "type": "quantitative", "scale": {"domain": [-0.5, 3.5], "nice": false, "zero": false}, "axis": null}, "y": {"datum": 23.6, "type": "quantitative", "scale": {"domain": [-20, 20], "nice": false, "zero": false}, "axis": null}, "text": {"field": "t"}}},
{"data": {"name": "d"}, "transform": [{"filter": "datum.p=='F' && datum.kind=='lab'"}], "mark": {"type": "text", "fontSize": 9.5, "align": "left", "color": "#262626"}, "encoding": {"x": {"datum": -0.32, "type": "quantitative", "scale": {"domain": [-0.5, 3.5], "nice": false, "zero": false}, "axis": null}, "y": {"datum": 23.89, "type": "quantitative", "scale": {"domain": [-20, 20], "nice": false, "zero": false}, "axis": null}, "text": {"field": "name"}}}
]
},
{
"width": 139, "height": 144,
"resolve": {"scale": {"x": "independent", "y": "independent"}},
"layer": [
{
"encoding": {
"x": {"field": "x", "type": "quantitative", "scale": {"domain": [-0.5, 3.5], "nice": false, "zero": false}, "axis": {"values": [-0.5, 0.5, 1.5, 2.5, 3.5], "labelExpr": "datum.value < 0 ? '0' : datum.value < 1 ? '0.1' : datum.value < 2 ? '0.5' : datum.value < 3 ? '1' : ''", "labelOffset": {"condition": {"test": "datum.value > 3", "value": 0}, "value": 17.4}, "labelOverlap": false, "labelPadding": 4, "title": "24hr Butyrate (mM)"}},
"y": {"field": "y", "type": "quantitative", "scale": {"domain": [-0.2, 0.4], "nice": false, "zero": false}, "axis": {"values": [-0.2, 0, 0.2, 0.4], "labelOverlap": false, "format": ".1f", "labelExpr": "replace(datum.label, '−', '-')", "title": ["Oxidative to Glycolytic Ratio", "Difference from Control"], "titleFontSize": 9, "titlePadding": 15}}
},
"layer": [
{"data": {"name": "d"}, "transform": [{"filter": "datum.p=='G' && datum.kind=='m' && datum.s=='AD-N'"}], "mark": {"type": "errorbar", "color": "#FFC000", "thickness": 1.5, "size": 4, "ticks": true}, "encoding": {"yError": {"field": "e"}}},
{"data": {"name": "d"}, "transform": [{"filter": "datum.p=='G' && datum.kind=='m' && datum.s=='AD-N'"}], "mark": {"type": "line", "color": "#FFC000", "strokeWidth": 1.75, "point": {"filled": true, "shape": "triangle-up", "size": 28, "color": "#FFC000", "opacity": 1}}},
{"data": {"name": "d"}, "transform": [{"filter": "datum.p=='G' && datum.kind=='m' && datum.s=='AD-A'"}], "mark": {"type": "errorbar", "color": "#9BBB59", "thickness": 1.5, "size": 4, "ticks": true}, "encoding": {"yError": {"field": "e"}}},
{"data": {"name": "d"}, "transform": [{"filter": "datum.p=='G' && datum.kind=='m' && datum.s=='AD-A'"}], "mark": {"type": "line", "color": "#9BBB59", "strokeWidth": 1.75, "point": {"filled": true, "shape": "circle", "size": 30, "color": "#9BBB59", "opacity": 1}}},
{"data": {"name": "d"}, "transform": [{"filter": "datum.p=='G' && datum.kind=='sb' && datum.k=='A'"}], "mark": {"type": "rule", "color": "#92D050", "strokeWidth": 2}, "encoding": {"y2": {"field": "y2"}}},
{"data": {"name": "d"}, "transform": [{"filter": "datum.p=='G' && datum.kind=='sb' && datum.k=='AvN'"}], "mark": {"type": "rule", "color": "#00B0F0", "strokeWidth": 2}, "encoding": {"y2": {"field": "y2"}}},
{"data": {"name": "d"}, "transform": [{"filter": "datum.p=='G' && datum.kind=='sd' && datum.k=='A'"}], "mark": {"type": "point", "filled": true, "shape": "circle", "size": 90, "opacity": 1, "color": "#92D050"}},
{"data": {"name": "d"}, "transform": [{"filter": "datum.p=='G' && datum.kind=='sd' && datum.k=='AvN'"}], "mark": {"type": "point", "filled": true, "shape": "circle", "size": 90, "opacity": 1, "color": "#00B0F0"}},
{"data": {"name": "d"}, "transform": [{"filter": "datum.p=='G' && datum.kind=='st' && datum.k=='A'"}], "mark": {"type": "text", "fontSize": 16, "baseline": "middle", "dy": 3, "color": "#92D050"}, "encoding": {"text": {"field": "t"}}},
{"data": {"name": "d"}, "transform": [{"filter": "datum.p=='G' && datum.kind=='st' && datum.k=='AvN'"}], "mark": {"type": "text", "fontSize": 16, "baseline": "middle", "dy": 3, "color": "#00B0F0"}, "encoding": {"text": {"field": "t"}}},
{"data": {"name": "d"}, "transform": [{"filter": "false"}], "mark": {"type": "point", "filled": true, "opacity": 1, "size": 100},
 "encoding": {"color": {"field": "s", "type": "nominal", "scale": {"domain": ["AD-N", "AD-A"], "range": ["#FFC000", "#9BBB59"]}, "legend": {"title": null, "orient": "none", "legendX": 39, "legendY": 122, "direction": "horizontal", "columnPadding": 4}},
  "shape": {"field": "s", "type": "nominal", "scale": {"domain": ["AD-N", "AD-A"], "range": ["M-1,-0.15L1,-0.15L1,0.15L-1,0.15Z M0,-0.6L0.6,0.45L-0.6,0.45Z", "M-1,-0.15L1,-0.15L1,0.15L-1,0.15Z M0.55,0A0.55,0.55,0,1,1,-0.55,0A0.55,0.55,0,1,1,0.55,0Z"]}}}}
]
},
{"data": {"name": "d"}, "transform": [{"filter": "datum.p=='G' && datum.kind=='lab'"}], "mark": {"type": "text", "fontSize": 12, "color": "#262626"}, "encoding": {"x": {"datum": -1.69, "type": "quantitative", "scale": {"domain": [-0.5, 3.5], "nice": false, "zero": false}, "axis": null}, "y": {"datum": 0.454, "type": "quantitative", "scale": {"domain": [-0.2, 0.4], "nice": false, "zero": false}, "axis": null}, "text": {"field": "t"}}},
{"data": {"name": "d"}, "transform": [{"filter": "datum.p=='G' && datum.kind=='lab'"}], "mark": {"type": "text", "fontSize": 9.5, "align": "left", "color": "#262626"}, "encoding": {"x": {"datum": 0.59, "type": "quantitative", "scale": {"domain": [-0.5, 3.5], "nice": false, "zero": false}, "axis": null}, "y": {"datum": 0.458, "type": "quantitative", "scale": {"domain": [-0.2, 0.4], "nice": false, "zero": false}, "axis": null}, "text": {"field": "name"}}}
]
},
{
"width": 136, "height": 144,
"resolve": {"scale": {"x": "independent", "y": "independent"}},
"layer": [
{
"encoding": {
"x": {"field": "x", "type": "quantitative", "scale": {"domain": [-0.5, 3.5], "nice": false, "zero": false}, "axis": {"values": [-0.5, 0.5, 1.5, 2.5, 3.5], "labelExpr": "datum.value < 0 ? '0' : datum.value < 1 ? '0.1' : datum.value < 2 ? '0.5' : datum.value < 3 ? '1' : ''", "labelOffset": {"condition": {"test": "datum.value > 3", "value": 0}, "value": 17}, "labelOverlap": false, "labelPadding": 4, "title": "24hr Butyrate (mM)"}},
"y": {"field": "y", "type": "quantitative", "scale": {"domain": [-0.2, 0.2], "nice": false, "zero": false}, "axis": {"values": [-0.2, 0, 0.2], "labelOverlap": false, "format": ".1f", "labelExpr": "replace(datum.label, '−', '-')", "title": ["Oxidative to Glycolytic Ratio", "Difference from Control"], "titleFontSize": 9, "titlePadding": 13}}
},
"layer": [
{"data": {"name": "d"}, "transform": [{"filter": "datum.p=='H' && datum.kind=='m' && datum.s=='AD-N'"}], "mark": {"type": "errorbar", "color": "#FFC000", "thickness": 1.5, "size": 4, "ticks": true}, "encoding": {"yError": {"field": "e"}}},
{"data": {"name": "d"}, "transform": [{"filter": "datum.p=='H' && datum.kind=='m' && datum.s=='AD-N'"}], "mark": {"type": "line", "color": "#FFC000", "strokeWidth": 1.75, "point": {"filled": true, "shape": "triangle-up", "size": 28, "color": "#FFC000", "opacity": 1}}},
{"data": {"name": "d"}, "transform": [{"filter": "datum.p=='H' && datum.kind=='m' && datum.s=='AD-A'"}], "mark": {"type": "errorbar", "color": "#9BBB59", "thickness": 1.5, "size": 4, "ticks": true}, "encoding": {"yError": {"field": "e"}}},
{"data": {"name": "d"}, "transform": [{"filter": "datum.p=='H' && datum.kind=='m' && datum.s=='AD-A'"}], "mark": {"type": "line", "color": "#9BBB59", "strokeWidth": 1.75, "point": {"filled": true, "shape": "circle", "size": 30, "color": "#9BBB59", "opacity": 1}}},
{"data": {"name": "d"}, "transform": [{"filter": "datum.p=='H' && datum.kind=='sb' && datum.k=='AvN'"}], "mark": {"type": "rule", "color": "#00B0F0", "strokeWidth": 2}, "encoding": {"y2": {"field": "y2"}}},
{"data": {"name": "d"}, "transform": [{"filter": "datum.p=='H' && datum.kind=='sd' && datum.k=='AvN'"}], "mark": {"type": "point", "filled": true, "shape": "circle", "size": 90, "opacity": 1, "color": "#00B0F0"}},
{"data": {"name": "d"}, "transform": [{"filter": "datum.p=='H' && datum.kind=='st' && datum.k=='AvN'"}], "mark": {"type": "text", "fontSize": 16, "baseline": "middle", "dy": 3, "color": "#00B0F0"}, "encoding": {"text": {"field": "t"}}},
{"data": {"name": "d"}, "transform": [{"filter": "false"}], "mark": {"type": "point", "filled": true, "opacity": 1, "size": 100},
 "encoding": {"color": {"field": "s", "type": "nominal", "scale": {"domain": ["AD-N", "AD-A"], "range": ["#FFC000", "#9BBB59"]}, "legend": {"title": null, "orient": "none", "legendX": 21, "legendY": 114, "direction": "horizontal", "columnPadding": 8}},
  "shape": {"field": "s", "type": "nominal", "scale": {"domain": ["AD-N", "AD-A"], "range": ["M-1,-0.15L1,-0.15L1,0.15L-1,0.15Z M0,-0.6L0.6,0.45L-0.6,0.45Z", "M-1,-0.15L1,-0.15L1,0.15L-1,0.15Z M0.55,0A0.55,0.55,0,1,1,-0.55,0A0.55,0.55,0,1,1,0.55,0Z"]}}}}
]
},
{"data": {"name": "d"}, "transform": [{"filter": "datum.p=='H' && datum.kind=='lab'"}], "mark": {"type": "text", "fontSize": 12, "color": "#262626"}, "encoding": {"x": {"datum": -1.78, "type": "quantitative", "scale": {"domain": [-0.5, 3.5], "nice": false, "zero": false}, "axis": null}, "y": {"datum": 0.236, "type": "quantitative", "scale": {"domain": [-0.2, 0.2], "nice": false, "zero": false}, "axis": null}, "text": {"field": "t"}}},
{"data": {"name": "d"}, "transform": [{"filter": "datum.p=='H' && datum.kind=='lab'"}], "mark": {"type": "text", "fontSize": 9.5, "align": "left", "color": "#262626"}, "encoding": {"x": {"datum": -0.06, "type": "quantitative", "scale": {"domain": [-0.5, 3.5], "nice": false, "zero": false}, "axis": null}, "y": {"datum": 0.239, "type": "quantitative", "scale": {"domain": [-0.2, 0.2], "nice": false, "zero": false}, "axis": null}, "text": {"field": "name"}}}
]
}
]
}
],
"config": {
"font": "Lato",
"view": {"stroke": null},
"axis": {"domainColor": "#a6a6a6", "tickColor": "#a6a6a6", "gridColor": "#d9d9d9", "labelColor": "#262626", "titleColor": "#262626", "labelFontSize": 10, "titleFontSize": 10, "titleFontWeight": "bold", "labelFont": "Lato", "titleFont": "Lato"},
"axisX": {"grid": false, "tickSize": 3, "labelPadding": 5, "titlePadding": 6, "labelFlush": false, "labelOverlap": false},
"axisY": {"grid": true, "tickSize": 3, "labelPadding": 1, "minExtent": 20, "maxExtent": 20, "titleLineHeight": 13, "titleFontSize": 9.5},
"legend": {"labelFont": "Lato", "labelFontSize": 10, "labelColor": "#262626", "labelOffset": 2, "symbolSize": 100, "padding": 0, "rowPadding": 4, "columnPadding": 10},
"text": {"font": "Lato"}
}
}
